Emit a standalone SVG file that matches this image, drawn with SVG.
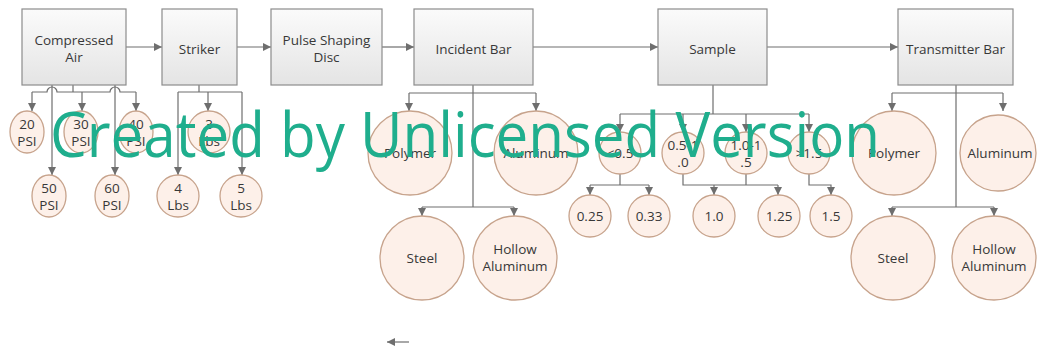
<svg xmlns="http://www.w3.org/2000/svg" width="1037" height="347" viewBox="0 0 1037 347">
<defs>
  <linearGradient id="boxg" x1="0" y1="0" x2="0" y2="1">
    <stop offset="0" stop-color="#fbfbfb"/>
    <stop offset="1" stop-color="#e4e4e4"/>
  </linearGradient>
  <marker id="ah" markerUnits="userSpaceOnUse" markerWidth="9" markerHeight="8" refX="8" refY="4" orient="auto">
    <path d="M0,0 L8,4 L0,8 Z" fill="#6e6e6e"/>
  </marker>
  <style>
    .box{fill:url(#boxg);stroke:#8c8c8c;stroke-width:1.2}
    .cir{fill:#fdf0e9;stroke:#c7a38c;stroke-width:1.3}
    .t{font-family:"Open Sans","Liberation Sans",sans-serif;font-size:13.5px;fill:#383838;text-anchor:middle}
    .c{fill:none;stroke:#6e6e6e;stroke-width:1.2}
    .a{marker-end:url(#ah)}
    .wm{font-family:"Open Sans","Liberation Sans",sans-serif;font-size:62px;fill:#1fae8d}
  </style>
</defs>
<rect width="1037" height="347" fill="#ffffff"/>

<g id="connectors">
  <path class="c a" d="M126,47 H162"/>
  <path class="c a" d="M237,47 H271"/>
  <path class="c a" d="M382,47 H414"/>
  <path class="c a" d="M533,47 H658"/>
  <path class="c a" d="M767,47 H898"/>
  <!-- compressed air -->
  <path class="c" d="M73,85 V92"/>
  <path class="c" d="M32,92 H47 A5,5 0 0 1 57,92 H110 A5,5 0 0 1 120,92 H136"/>
  <path class="c a" d="M32,92 V111"/>
  <path class="c a" d="M82,92 V111"/>
  <path class="c a" d="M136,92 V111"/>
  <path class="c a" d="M52,85 V175"/>
  <path class="c a" d="M115,85 V175"/>
  <!-- striker -->
  <path class="c" d="M199,85 V92"/>
  <path class="c" d="M178,92 H242"/>
  <path class="c a" d="M178,92 V175"/>
  <path class="c a" d="M208,92 V111"/>
  <path class="c a" d="M242,92 V175"/>
  <!-- incident bar -->
  <path class="c" d="M473,85 V207"/>
  <path class="c" d="M409,93 H536"/>
  <path class="c a" d="M409,93 V111"/>
  <path class="c a" d="M536,93 V111"/>
  <path class="c" d="M422,207 H514"/>
  <path class="c a" d="M422,207 V216"/>
  <path class="c a" d="M514,207 V216"/>
  <!-- sample -->
  <path class="c" d="M713,85 V114"/>
  <path class="c" d="M620,114 H809"/>
  <path class="c a" d="M620,114 V132"/>
  <path class="c a" d="M683,114 V132"/>
  <path class="c a" d="M746,114 V132"/>
  <path class="c a" d="M809,114 V132"/>
  <path class="c" d="M620,174 V185 M590,185 H649"/>
  <path class="c a" d="M590,185 V195"/>
  <path class="c a" d="M649,185 V195"/>
  <path class="c" d="M683,174 V185 H778 M746,174 V185"/>
  <path class="c a" d="M714,185 V195"/>
  <path class="c a" d="M778,185 V195"/>
  <path class="c a" d="M809,174 V185 H831 V195"/>
  <!-- transmitter bar -->
  <path class="c" d="M956,85 V207"/>
  <path class="c" d="M892,93 H1003"/>
  <path class="c a" d="M892,93 V111"/>
  <path class="c a" d="M1003,93 V111"/>
  <path class="c" d="M892,207 H994"/>
  <path class="c a" d="M892,207 V216"/>
  <path class="c a" d="M994,207 V216"/>
  <!-- stray arrow -->
  <path class="c a" d="M409,342 H387"/>
</g>

<g id="compressed-air"><rect class="box" x="22" y="9" width="104" height="76"/><text class="t" x="74" y="45">Compressed</text><text class="t" x="74" y="62">Air</text></g>
<g id="striker"><rect class="box" x="162" y="9" width="75" height="76"/><text class="t" x="199.5" y="53.5">Striker</text></g>
<g id="pulse-shaping-disc"><rect class="box" x="271" y="9" width="111" height="76"/><text class="t" x="326.5" y="45">Pulse Shaping</text><text class="t" x="326.5" y="62">Disc</text></g>
<g id="incident-bar"><rect class="box" x="414" y="9" width="119" height="76"/><text class="t" x="473.5" y="53.5">Incident Bar</text></g>
<g id="sample"><rect class="box" x="658" y="9" width="109" height="76"/><text class="t" x="712.5" y="53.5">Sample</text></g>
<g id="transmitter-bar"><rect class="box" x="898" y="9" width="115" height="76"/><text class="t" x="955.5" y="53.5">Transmitter Bar</text></g>

<g id="psi20"><ellipse class="cir" cx="27" cy="132" rx="17" ry="21"/><text class="t" x="27" y="129">20</text><text class="t" x="27" y="146">PSI</text></g>
<g id="psi30"><ellipse class="cir" cx="81" cy="132" rx="17" ry="21"/><text class="t" x="81" y="129">30</text><text class="t" x="81" y="146">PSI</text></g>
<g id="psi40"><ellipse class="cir" cx="136" cy="132" rx="17" ry="21"/><text class="t" x="136" y="129">40</text><text class="t" x="136" y="146">PSI</text></g>
<g id="psi50"><ellipse class="cir" cx="49" cy="196" rx="17" ry="21"/><text class="t" x="49" y="193">50</text><text class="t" x="49" y="210">PSI</text></g>
<g id="psi60"><ellipse class="cir" cx="112" cy="196" rx="17" ry="21"/><text class="t" x="112" y="193">60</text><text class="t" x="112" y="210">PSI</text></g>

<g id="lbs3"><circle class="cir" cx="209" cy="132" r="21"/><text class="t" x="209" y="129">3</text><text class="t" x="209" y="146">Lbs</text></g>
<g id="lbs4"><circle class="cir" cx="178" cy="196" r="21"/><text class="t" x="178" y="193">4</text><text class="t" x="178" y="210">Lbs</text></g>
<g id="lbs5"><circle class="cir" cx="241" cy="196" r="21"/><text class="t" x="241" y="193">5</text><text class="t" x="241" y="210">Lbs</text></g>

<g id="ib-polymer"><circle class="cir" cx="410" cy="153" r="42"/><text class="t" x="410" y="158">Polymer</text></g>
<g id="ib-aluminum"><circle class="cir" cx="536" cy="153" r="42"/><text class="t" x="536" y="158">Aluminum</text></g>
<g id="ib-steel"><circle class="cir" cx="422" cy="258" r="42"/><text class="t" x="422" y="263">Steel</text></g>
<g id="ib-hollow"><circle class="cir" cx="515" cy="258" r="42"/><text class="t" x="515" y="254">Hollow</text><text class="t" x="515" y="271">Aluminum</text></g>

<g id="s-lt05"><circle class="cir" cx="620" cy="153" r="21"/><text class="t" x="620" y="158">&lt;0.5</text></g>
<g id="s-05-10"><circle class="cir" cx="683" cy="153" r="21"/><text class="t" x="683" y="150">0.5-1</text><text class="t" x="683" y="167">.0</text></g>
<g id="s-10-15"><circle class="cir" cx="746" cy="153" r="21"/><text class="t" x="746" y="150">1.0-1</text><text class="t" x="746" y="167">.5</text></g>
<g id="s-gt15"><circle class="cir" cx="809" cy="153" r="21"/><text class="t" x="809" y="158">&gt;1.5</text></g>
<g id="s-025"><circle class="cir" cx="590" cy="216" r="21"/><text class="t" x="590" y="221">0.25</text></g>
<g id="s-033"><circle class="cir" cx="649" cy="216" r="21"/><text class="t" x="649" y="221">0.33</text></g>
<g id="s-10"><circle class="cir" cx="714" cy="216" r="21"/><text class="t" x="714" y="221">1.0</text></g>
<g id="s-125"><circle class="cir" cx="779" cy="216" r="21"/><text class="t" x="779" y="221">1.25</text></g>
<g id="s-15"><circle class="cir" cx="831" cy="216" r="21"/><text class="t" x="831" y="221">1.5</text></g>

<g id="tb-polymer"><circle class="cir" cx="894" cy="153" r="42"/><text class="t" x="894" y="158">Polymer</text></g>
<g id="tb-aluminum"><circle class="cir" cx="998" cy="153" r="38"/><text class="t" x="1000" y="158">Aluminum</text></g>
<g id="tb-steel"><circle class="cir" cx="893" cy="258" r="42"/><text class="t" x="893" y="263">Steel</text></g>
<g id="tb-hollow"><circle class="cir" cx="994" cy="258" r="42"/><text class="t" x="994" y="254">Hollow</text><text class="t" x="994" y="271">Aluminum</text></g>

<g id="watermark"><text class="wm" x="50" y="157" textLength="830" lengthAdjust="spacingAndGlyphs">Created by Unlicensed Version</text></g>
</svg>
